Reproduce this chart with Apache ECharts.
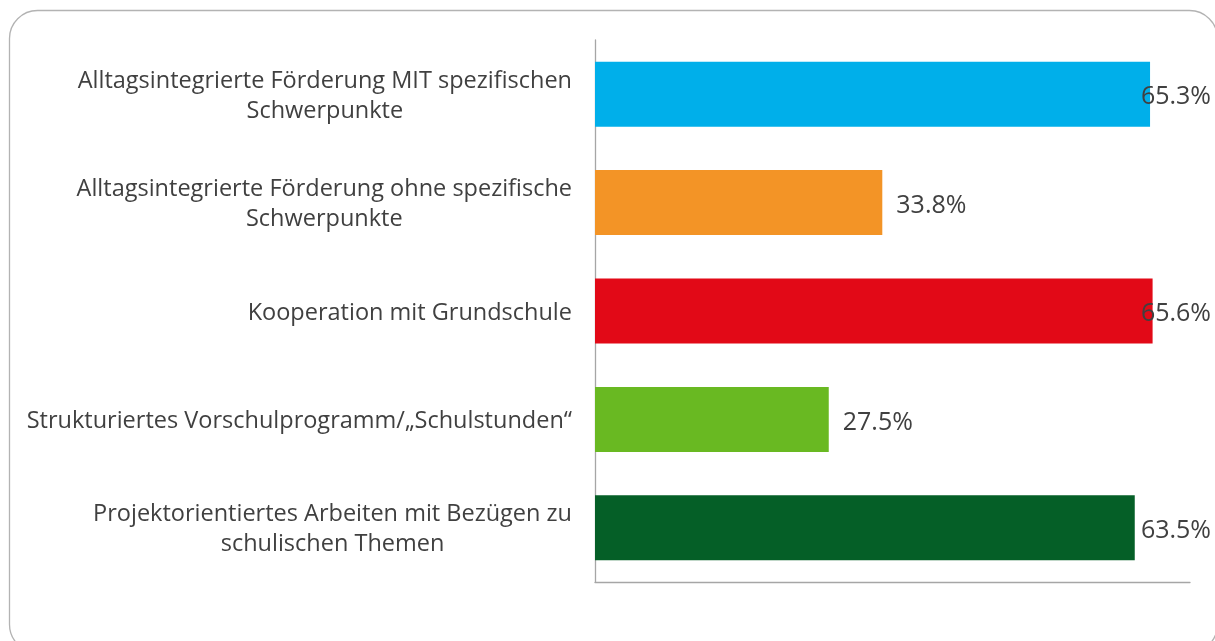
<!DOCTYPE html>
<html>
<head>
<meta charset="utf-8">
<script src="https://cdn.jsdelivr.net/npm/echarts@6/dist/echarts.min.js"></script>
<style>
  html, body { margin: 0; padding: 0; background: #fff; }
  #chart { width: 1215px; height: 641px; }
</style>
</head>
<body>
<div id="chart"></div>
<script>
// data
const categories = [
  'Alltagsintegrierte Förderung MIT spezifischen\nSchwerpunkte',
  'Alltagsintegrierte Förderung ohne spezifische\nSchwerpunkte',
  'Kooperation mit Grundschule',
  'Strukturiertes Vorschulprogramm/„Schulstunden“',
  'Projektorientiertes Arbeiten mit Bezügen zu\nschulischen Themen'
];
const values = [65.3, 33.8, 65.6, 27.5, 63.5];
const barColors = ['#00AFEA', '#F39426', '#E20917', '#69B922', '#055F27'];

const chart = echarts.init(document.getElementById('chart'));
const W = 1215;

const option = {
  animation: false,
  textStyle: { fontFamily: 'Open Sans' },
  graphic: [{
    type: 'rect',
    shape: { x: 9.5, y: 10.5, width: 1208, height: 642, r: 28 },
    style: { fill: 'none', stroke: '#b3b3b3', lineWidth: 1.3 },
    silent: true
  }],
  grid: { left: 595, right: 25, top: 40, bottom: 59, containLabel: false },
  xAxis: {
    type: 'value',
    min: 0,
    max: 70,
    axisLine: { show: true, lineStyle: { color: '#a6a6a6', width: 1.3 } },
    axisTick: { show: false },
    axisLabel: { show: false },
    splitLine: { show: false }
  },
  yAxis: {
    type: 'category',
    inverse: true,
    data: categories,
    axisLine: { show: true, lineStyle: { color: '#a6a6a6', width: 1.3 } },
    axisTick: { show: false },
    axisLabel: {
      margin: 23,
      align: 'right',
      formatter: function (v) {
        return v.split('\n').map(function (l) { return '{c|' + l + '}'; }).join('\n');
      },
      rich: {
        c: { align: 'center', fontSize: 23.5, lineHeight: 30, padding: [4, 0, 0, 0], color: '#404040', fontFamily: 'Open Sans' }
      }
    }
  },
  series: [{
    type: 'bar',
    barWidth: 65,
    data: values.map(function (v, i) {
      return { value: v, itemStyle: { color: barColors[i] } };
    }),
    label: {
      show: true,
      position: 'right',
      distance: 14,
      fontSize: 25,
      color: '#404040',
      fontFamily: 'Open Sans',
      formatter: function (p) { return p.value.toFixed(1) + '%'; }
    },
    labelLayout: function (p) {
      // keep labels inside the frame, like the original
      const r = p.labelRect;
      const maxX = W - 4 - r.width;
      return { x: Math.min(r.x, maxX), y: r.y + 3, align: 'left', verticalAlign: 'top' };
    }
  }]
};

chart.setOption(option);
</script>
</body>
</html>
